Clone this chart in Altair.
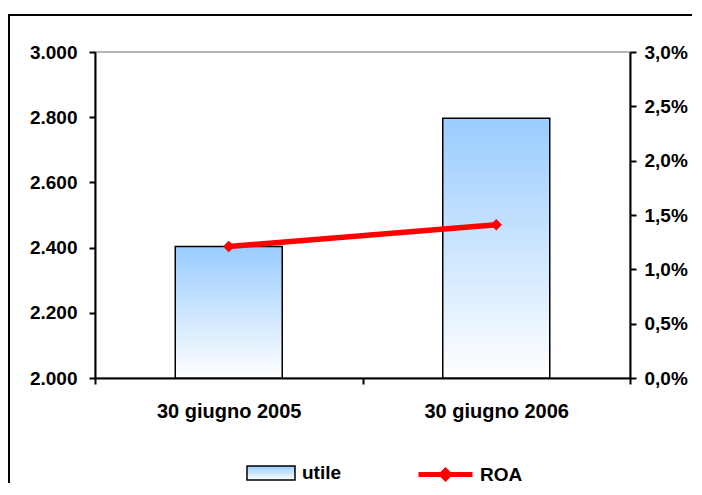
import altair as alt
import pandas as pd

# ---- data ----
periodi = ["30 giugno 2005", "30 giugno 2006"]
utile = [2403, 2797]
roa = [0.0121, 0.0141]
serie_utile = ["utile", "utile"]
serie_roa = ["ROA", "ROA"]
tick_utile = [2000, 2200, 2400, 2600, 2800, 3000]
tick_roa = [0.0, 0.005, 0.01, 0.015, 0.02, 0.025, 0.03]

df = pd.DataFrame({
    "periodo": periodi,
    "utile": utile,
    "roa": roa,
    "s_utile": serie_utile,
    "s_roa": serie_roa,
})

FONT = "Liberation Sans, Arial, sans-serif"
gradient = {
    "gradient": "linear", "x1": 0, "y1": 0, "x2": 0, "y2": 1,
    "stops": [{"offset": 0, "color": "#99CCFF"}, {"offset": 1, "color": "#FFFFFF"}],
}

W, H = 535, 326

x_enc = alt.X(
    "periodo:N", sort=periodi, title=None,
    scale=alt.Scale(paddingInner=0, paddingOuter=0),
    axis=alt.Axis(labelAngle=0, tickBand="extent", labelPadding=17,
                  labelFontSize=20, domainColor="#000000", domainWidth=2),
)

bars = alt.Chart(df).mark_bar(
    fill=gradient, strokeWidth=1.5, width=alt.RelativeBandSize(0.4)
).encode(
    x=x_enc,
    y=alt.Y("utile:Q", title=None,
            scale=alt.Scale(domain=[2000, 3000], nice=False, zero=False),
            axis=alt.Axis(orient="left", values=tick_utile, format=",.0f",
                          labelExpr="replace(datum.label, ',', '.')",
                          labelPadding=12)),
    y2=alt.datum(2000),
    stroke=alt.Stroke(
        "s_utile:N", title=None,
        scale=alt.Scale(domain=["utile"], range=["#000000"]),
        legend=alt.Legend(
            orient="none", legendX=151, legendY=396, padding=0,
            symbolType="M-1,-0.29H1V0.29H-1Z", symbolSize=2304,
            symbolStrokeWidth=1.5, symbolStrokeColor="#000000",
            symbolFillColor="#C9E4FF", labelOffset=6,
            labelFont=FONT, labelFontSize=19, labelFontWeight="bold",
            labelColor="#000000",
        ),
    ),
)

roa_y = alt.Y("roa:Q", title=None,
              scale=alt.Scale(domain=[0, 0.03], nice=False),
              axis=alt.Axis(orient="right", values=tick_roa, format=".1%",
                            labelExpr="replace(datum.label, '.', ',')",
                            labelPadding=8))

line = alt.Chart(df).mark_line(strokeWidth=5.5).encode(
    x=alt.X("periodo:N", sort=periodi),
    y=roa_y,
    color=alt.Color(
        "s_roa:N", title=None,
        scale=alt.Scale(domain=["ROA"], range=["#FF0000"]),
        legend=alt.Legend(
            orient="none", legendX=321, legendY=393, padding=0,
            symbolType="M-1,0H1M-0.15,0L0,-0.15L0.15,0L0,0.15Z", symbolSize=2916,
            symbolStrokeWidth=5, symbolStrokeColor="#FF0000",
            symbolFillColor="#FF0000", labelOffset=5,
            labelFont=FONT, labelFontSize=19, labelFontWeight="bold",
            labelColor="#000000",
        ),
    ),
)

points = alt.Chart(df).mark_point(
    shape="diamond", filled=True, color="#FF0000", size=130, opacity=1
).encode(
    x=alt.X("periodo:N", sort=periodi),
    y=alt.Y("roa:Q", scale=alt.Scale(domain=[0, 0.03], nice=False)),
)

roa_layer = alt.layer(line, points)

border = alt.Chart(alt.Data(values=[{"b": 1}])).mark_rect(
    fill="transparent", stroke="#000000", strokeWidth=2
).encode(
    x=alt.value(-86), x2=alt.value(W + 200),
    y=alt.value(-37), y2=alt.value(H + 300),
)

chart = alt.layer(bars, roa_layer, border).resolve_scale(
    y="independent"
).properties(
    width=W, height=H,
    autosize=alt.AutoSizeParams(type="none"),
    padding={"left": 87, "top": 44, "right": 62, "bottom": 105},
    background="#FFFFFF",
).configure_view(
    stroke="#9A9A9A", strokeWidth=1.5
).configure_axis(
    grid=False,
    domainColor="#000000", domainWidth=2,
    tickColor="#000000", tickWidth=2, tickSize=6,
    labelFont=FONT, labelFontSize=19, labelFontWeight="bold",
    labelColor="#000000",
)

chart.save("out.html", embed_options={"renderer": "svg", "actions": False})
